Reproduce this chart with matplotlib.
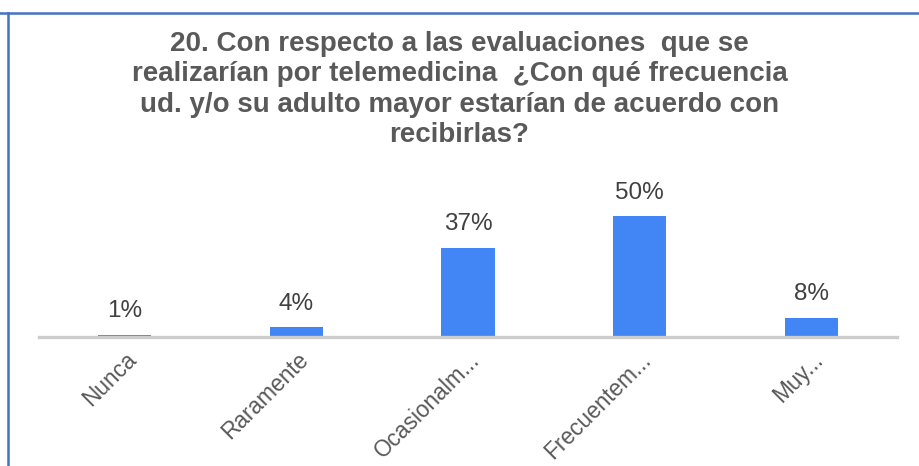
import matplotlib
matplotlib.use("Agg")
import matplotlib.pyplot as plt
from matplotlib.lines import Line2D

categories = ["Nunca", "Raramente", "Ocasionalm...", "Frecuentem...", "Muy..."]
values = [1, 4, 37, 50, 8]
value_labels = ["1%", "4%", "37%", "50%", "8%"]

title = ("20. Con respecto a las evaluaciones  que se\n"
         "realizarían por telemedicina  ¿Con qué frecuencia\n"
         "ud. y/o su adulto mayor estarían de acuerdo con\n"
         "recibirlas?")

W, H = 919, 466
fig = plt.figure(figsize=(W / 100, H / 100), dpi=100)
fig.patch.set_facecolor("white")

# axes placed in pixel terms: baseline at y=337, x span 39..897
ax = fig.add_axes([39 / W, (H - 337) / H, 858 / W, 145 / H])
x = range(len(categories))
ax.bar(x, values, width=0.31, color="#4285F4", zorder=2)
ax.set_xlim(-0.5, len(categories) - 0.5)
ax.set_ylim(0, 60)

for xi, v, lab in zip(x, values, value_labels):
    ax.annotate(lab, (xi, v), xytext=(0, 9), textcoords="offset points",
                ha="center", va="bottom", fontsize=17.5, color="#404040",
                family="Liberation Sans")

ax.set_xticks(list(x))
ax.set_xticklabels(categories, rotation=45, ha="right", va="top",
                   rotation_mode="anchor", fontsize=16.3, color="#595959",
                   family="Liberation Sans")
ax.tick_params(axis="x", length=0, pad=8)
ax.set_yticks([])
for side in ("top", "right", "left"):
    ax.spines[side].set_visible(False)
ax.spines["bottom"].set_color("#cccccc")
ax.spines["bottom"].set_linewidth(2.4)
ax.spines["bottom"].set_zorder(3)
ax.set_facecolor("none")

fig.text(0.5, 1 - 31 / H, title, ha="center", va="top", fontsize=20,
         fontweight="bold", color="#595959", linespacing=1.22,
         family="Liberation Sans")

# blue frame on the top and left edges
fig.add_artist(Line2D([0, 1], [1 - 13 / H, 1 - 13 / H], transform=fig.transFigure,
                      color="#4472C4", linewidth=1.8))
fig.add_artist(Line2D([8 / W, 8 / W], [0, 1 - 13 / H], transform=fig.transFigure,
                      color="#4472C4", linewidth=1.8))

fig.savefig("out.png", dpi=100)
